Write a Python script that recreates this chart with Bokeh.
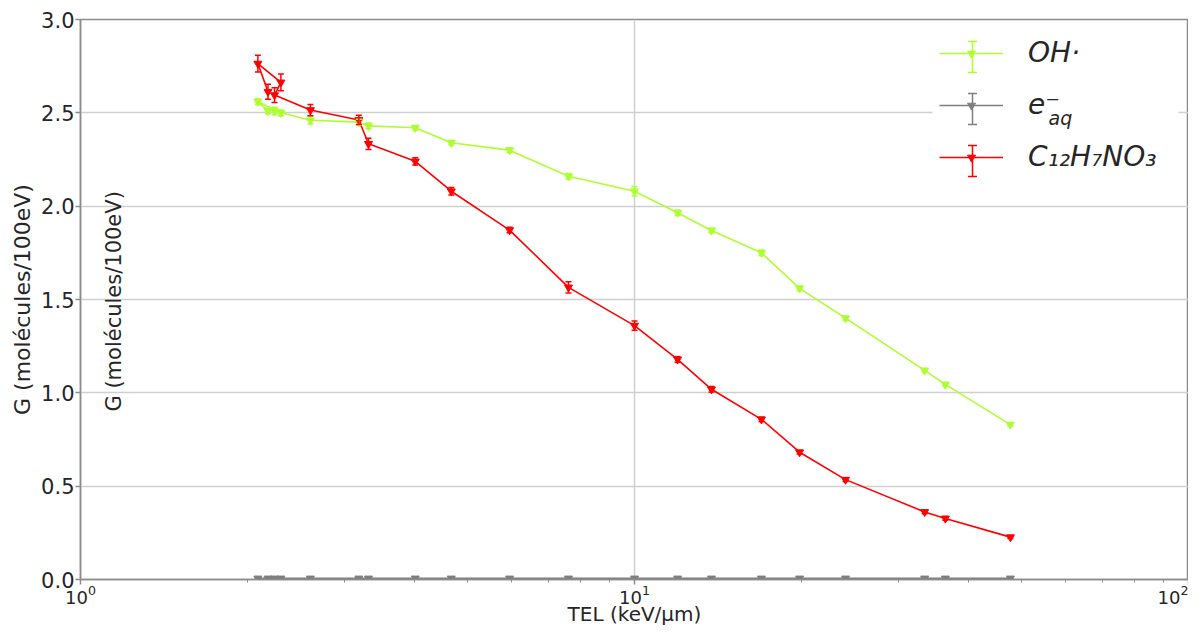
import math
from bokeh.plotting import figure
from bokeh.models import (Range1d, FixedTicker, PrintfTickFormatter, ColumnDataSource,
                          Whisker, TeeHead, Legend, LegendItem, Label, BoxAnnotation)
from bokeh.embed import file_html
from bokeh.resources import INLINE

# ---- data ----
tel = [2.18, 2.09, 2.30, 2.24, 2.60, 3.18, 3.31, 4.02, 4.67, 5.95,
       7.60, 10.0, 11.96, 13.77, 16.95, 19.86, 24.04, 33.4, 36.4, 47.7]
g_oh = [2.51, 2.56, 2.50, 2.51, 2.46, 2.45, 2.43, 2.42, 2.34, 2.30,
        2.16, 2.08, 1.965, 1.87, 1.75, 1.56, 1.40, 1.12, 1.045, 0.83]
err_oh = [0.015, 0.015, 0.015, 0.02, 0.02, 0.015, 0.015, 0.012, 0.012, 0.012,
          0.015, 0.025, 0.015, 0.012, 0.015, 0.012, 0.01, 0.01, 0.01, 0.008]
g_eaq = [0.006, 0.006, 0.006, 0.006, 0.006, 0.006, 0.006, 0.006, 0.006, 0.006,
         0.006, 0.006, 0.006, 0.006, 0.006, 0.006, 0.006, 0.006, 0.006, 0.006]
err_eaq = [0.004, 0.004, 0.004, 0.004, 0.004, 0.004, 0.004, 0.004, 0.004, 0.004,
           0.004, 0.004, 0.004, 0.004, 0.004, 0.004, 0.004, 0.004, 0.004, 0.004]
g_c12 = [2.613, 2.764, 2.663, 2.595, 2.515, 2.462, 2.334, 2.240, 2.080, 1.872,
         1.565, 1.360, 1.179, 1.019, 0.858, 0.682, 0.535, 0.362, 0.327, 0.227]
err_c12 = [0.04, 0.045, 0.045, 0.04, 0.03, 0.025, 0.03, 0.02, 0.02, 0.015,
           0.03, 0.025, 0.015, 0.015, 0.012, 0.01, 0.01, 0.01, 0.01, 0.008]
y_ticks = [0.0, 0.5, 1.0, 1.5, 2.0, 2.5, 3.0]
series_labels = ["OH·", "e⁻", "C₁₂H₇NO₃"]
sub_label = "aq"
colors = ["#adff2f", "#7f7f7f", "#ff0000"]
x_label = "TEL (keV/μm)"
y_label = "G (molécules/100eV)"

FONT = "DejaVu Sans"
TXT = "#262626"
AX = "#8c8c8c"

p = figure(width=1188, height=628, x_axis_type="log",
           x_range=Range1d(1, 100), y_range=Range1d(0, 3),
           output_backend="svg", toolbar_location=None,
           min_border_left=80, min_border_right=0, min_border_top=19,
           min_border_bottom=49)

p.background_fill_color = "white"
p.border_fill_color = "white"
p.outline_line_color = AX
p.outline_line_width = 1.5

p.yaxis.ticker = FixedTicker(ticks=y_ticks)
p.yaxis.formatter = PrintfTickFormatter(format="%.1f")
p.yaxis.minor_tick_line_color = None

for ax in (p.xaxis[0], p.yaxis[0]):
    ax.axis_line_color = AX
    ax.axis_line_width = 1.5
    ax.major_tick_line_color = AX
    ax.major_tick_line_width = 1.5
    ax.major_tick_out = 5
    ax.major_tick_in = 0
    ax.major_label_text_font = FONT
    ax.major_label_text_color = TXT
    ax.axis_label_text_font = FONT
    ax.axis_label_text_font_style = "normal"
    ax.axis_label_text_color = TXT

p.yaxis.major_label_text_font_size = "21px"
p.yaxis.axis_label_text_font_size = "22px"
p.xaxis.major_label_text_font_size = "18px"
p.xaxis.axis_label_text_font_size = "20px"
p.xaxis.minor_tick_line_color = AX
p.xaxis.minor_tick_out = 3
p.xaxis.minor_tick_in = 0
p.xaxis.major_label_standoff = 0
p.xaxis.axis_label_standoff = -5
p.yaxis.major_label_standoff = 1
p.yaxis.axis_label_standoff = 3
p.xaxis.axis_label = x_label
p.yaxis.axis_label = y_label

p.xgrid.grid_line_color = "#d0d0d0"
p.xgrid.grid_line_width = 1.5
p.ygrid.grid_line_color = "#d0d0d0"
p.ygrid.grid_line_width = 1.5

series = [(g_oh, err_oh), (g_eaq, err_eaq), (g_c12, err_c12)]
legend_rs = []
for (vals, errs), c in zip(series, colors):
    src = ColumnDataSource(dict(
        x=tel, y=vals,
        lo=[v - e for v, e in zip(vals, errs)],
        hi=[v + e for v, e in zip(vals, errs)]))
    ln = p.line("x", "y", source=src, line_color=c, line_width=1.6)
    wh = Whisker(source=src, base="x", upper="hi", lower="lo", dimension="height",
                 line_color=c, line_width=1.5, level="glyph",
                 upper_head=TeeHead(size=6, line_color=c, line_width=1.5),
                 lower_head=TeeHead(size=6, line_color=c, line_width=1.5))
    p.add_layout(wh)
    sc = p.scatter("x", "y", source=src, marker="inverted_triangle", size=8,
                   fill_color=c, line_color=c)
    legend_rs.append((ln, sc))

# ---- legend (frame-relative pixel layout, measured from the frame's bottom-left) ----
GW, STANDOFF, SPACING = 64, 25, 19
LEG_X, LEG_Y = 859, 406
ROW_1, ROW_STEP = 526, 52
rows = [ROW_1 - i * ROW_STEP for i in range(3)]

p.add_layout(BoxAnnotation(left=852, right=1098, bottom=388, top=548,
                           left_units="screen", right_units="screen",
                           bottom_units="screen", top_units="screen",
                           fill_color="white", fill_alpha=1.0, line_color=None,
                           level="underlay"))

legend = Legend(items=[LegendItem(label=lab, renderers=list(rs))
                       for lab, rs in zip(series_labels, legend_rs)],
                location=(LEG_X, LEG_Y), glyph_width=GW, glyph_height=20,
                label_standoff=STANDOFF, spacing=SPACING, padding=10, margin=0,
                label_text_font=FONT, label_text_font_style="italic",
                label_text_font_size="28px", label_text_color=TXT,
                background_fill_alpha=0.0, border_line_color=None)
p.add_layout(legend)

cx = LEG_X + 1 + GW / 2
for r, c in zip(rows, colors):
    isrc = ColumnDataSource(dict(b=[cx], lo=[r - 19], hi=[r + 12]))
    p.add_layout(Whisker(source=isrc, base="b", lower="lo", upper="hi",
                         base_units="screen", lower_units="screen", upper_units="screen",
                         dimension="height", line_color=c, line_width=1.5, level="overlay",
                         upper_head=TeeHead(size=9, line_color=c, line_width=1.5),
                         lower_head=TeeHead(size=9, line_color=c, line_width=1.5)))

p.add_layout(Label(x=968, y=rows[1] - 12, x_units="screen", y_units="screen",
                   text=sub_label, text_font=FONT, text_font_style="italic",
                   text_font_size="19px", text_color=TXT, text_baseline="middle",
                   level="overlay"))

# second (inner) y label
p.add_layout(Label(x=33, y=1.49, x_units="screen", y_units="data", text=y_label,
                   angle=math.pi / 2, text_align="center", text_baseline="middle",
                   text_font=FONT, text_font_size="21px", text_color=TXT))

open("out.html", "w").write(file_html(p, INLINE))
